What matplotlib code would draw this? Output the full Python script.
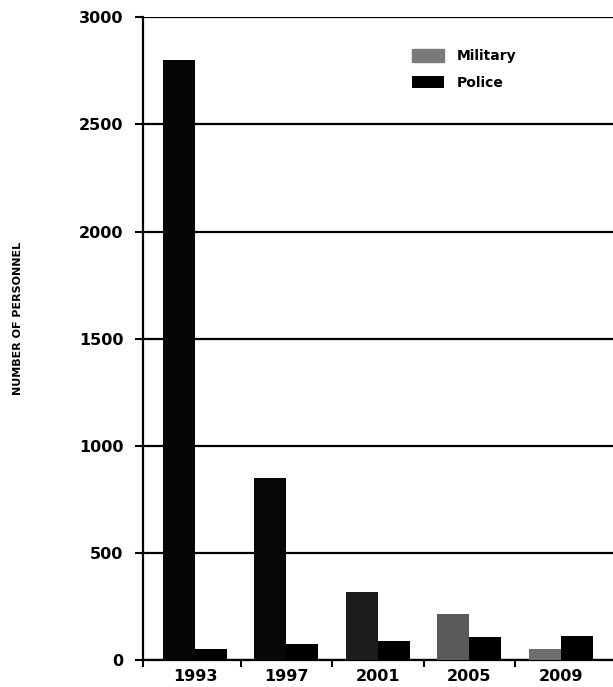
import matplotlib
matplotlib.use('Agg')
import matplotlib.pyplot as plt
import numpy as np

# Data
years = ['1993', '1997', '2001', '2005', '2009']
military = [2800, 850, 320, 215, 50]
police = [50, 75, 90, 110, 115]

# military bars come out darker in the scan for the early years
military_colors = ['#050505', '#080808', '#1c1c1c', '#5a5a5a', '#6e6e6e']

fig = plt.figure(figsize=(6.13, 6.87), dpi=100)
ax = fig.add_axes([0.233, 0.039, 0.767, 0.936])

x = np.arange(len(years))
w = 0.35
ax.bar(x - w / 2, military, w, color=military_colors, label='Military', zorder=3)
ax.bar(x + w / 2, police, w, color='black', label='Police', zorder=3)

ax.set_xlim(-0.57, 4.57)
ax.set_ylim(0, 3000)
ax.set_yticks(range(0, 3001, 500))
ax.yaxis.grid(True, color='black', linewidth=1.6)
ax.set_axisbelow(True)

ax.set_xticks(x)
ax.set_xticklabels(years, fontsize=11.5, fontweight='bold')
ax.set_xticks([-0.57] + list(np.arange(0.5, 4.5, 1.0)), minor=True)
ax.tick_params(axis='x', which='major', length=0, pad=6)
ax.tick_params(axis='x', which='minor', length=5, width=1.5, direction='out')
ax.tick_params(axis='y', length=6, width=1.5, direction='out', pad=8,
               labelsize=11.5)
for lbl in ax.get_yticklabels():
    lbl.set_fontweight('bold')

ax.spines['top'].set_visible(False)
ax.spines['right'].set_visible(False)
ax.spines['left'].set_linewidth(1.6)
ax.spines['bottom'].set_linewidth(1.6)

fig.text(0.03, 0.537, 'NUMBER OF PERSONNEL', rotation=90, ha='center',
         va='center', fontsize=8, fontweight='bold')

leg = ax.legend(loc='upper left', bbox_to_anchor=(0.573, 0.95),
                frameon=False, borderpad=0, borderaxespad=0,
                handlelength=2.3, handleheight=1.0, handletextpad=0.9,
                labelspacing=0.9, prop={'size': 10, 'weight': 'bold'})
leg.legend_handles[0].set_color('#7a7a7a')

fig.savefig('out.png', dpi=100)
